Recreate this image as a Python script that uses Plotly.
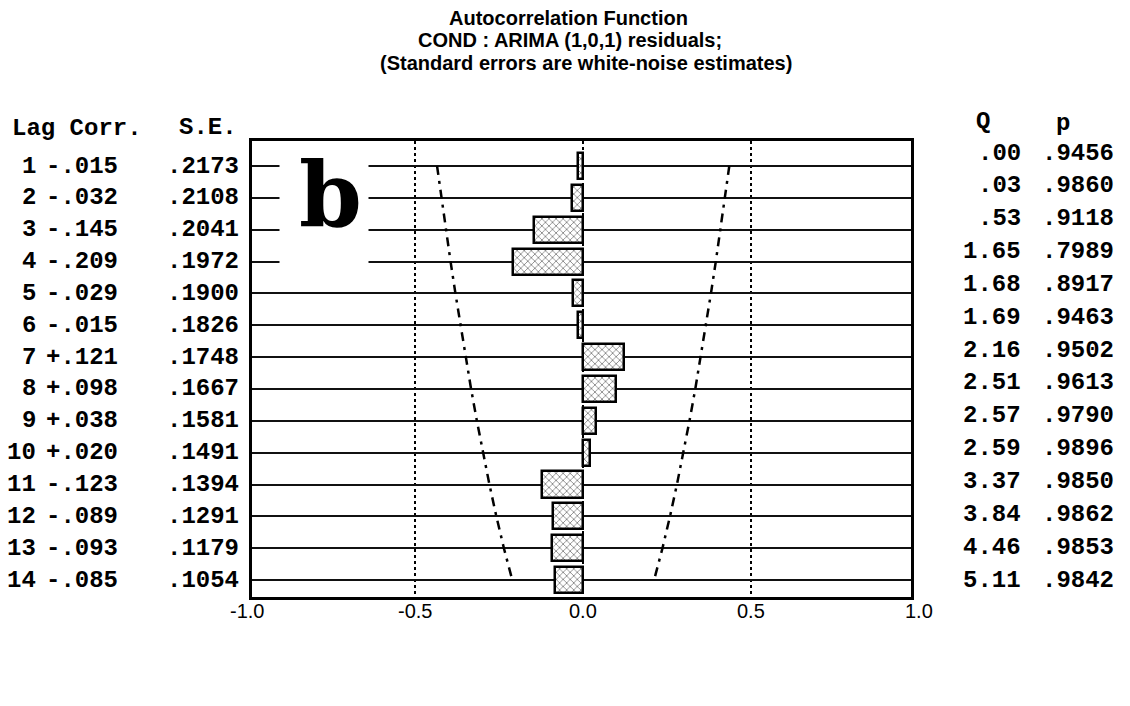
import plotly.graph_objects as go

# ---- data ----
lags = list(range(1, 15))
corr = [-0.015, -0.032, -0.145, -0.209, -0.029, -0.015, 0.121, 0.098,
        0.038, 0.020, -0.123, -0.089, -0.093, -0.085]
se = [0.2173, 0.2108, 0.2041, 0.1972, 0.1900, 0.1826, 0.1748, 0.1667,
      0.1581, 0.1491, 0.1394, 0.1291, 0.1179, 0.1054]
q_stat = [0.00, 0.03, 0.53, 1.65, 1.68, 1.69, 2.16, 2.51, 2.57, 2.59,
          3.37, 3.84, 4.46, 5.11]
p_val = [0.9456, 0.9860, 0.9118, 0.7989, 0.8917, 0.9463, 0.9502, 0.9613,
         0.9790, 0.9896, 0.9850, 0.9862, 0.9853, 0.9842]
x_ticks = [-1.0, -0.5, 0.0, 0.5, 1.0]
x_tick_labels = ["-1.0", "-0.5", "0.0", "0.5", "1.0"]
title_lines = ["Autocorrelation Function",
               "COND : ARIMA (1,0,1) residuals;",
               "(Standard errors are white-noise estimates)"]
panel_label = "b"


def nolead(s):
    return s.replace("0.", ".", 1) if s.lstrip("+-").startswith("0.") else s


W, H = 1130, 706
X0, PXU = 575, 336          # pixel of x=0 and pixels per unit
XR = [-0.985, 0.975]        # frame limits in data units
L, R = X0 + XR[0] * PXU, X0 + XR[1] * PXU
T, B = 133, 589             # frame top / bottom in pixels


def px_x(px):
    return (px - L) / (R - L)


def px_y(py):
    return (B - py) / (B - T)


def val_to_paper(v):
    return (v - XR[0]) / (XR[1] - XR[0])


MONO = "Liberation Mono"
fig = go.Figure()

fig.add_trace(go.Bar(
    x=corr, y=lags, orientation="h", width=0.82, base=0,
    marker=dict(color="white", line=dict(color="black", width=2.5),
                pattern=dict(shape="x", fgcolor="black", size=5, solidity=0.3)),
    showlegend=False, hoverinfo="x+y"))

band_lo = [-2 * s for s in se]
band_hi = [2 * s for s in se]
for band in (band_lo, band_hi):
    fig.add_trace(go.Scatter(
        x=band, y=lags, mode="lines", showlegend=False,
        line=dict(color="black", width=2.5, dash="9px,6px,3px,6px")))

ann = []
# title (scanned page: lines are not quite centred on each other)
title_cx = [560, 562, 578]
for i, line in enumerate(title_lines):
    ann.append(dict(text=f"<b>{line}</b>", xref="paper", yref="paper",
                    x=px_x(title_cx[i]), y=px_y(10 + 22.5 * i), showarrow=False,
                    xanchor="center", yanchor="middle",
                    font=dict(family="Liberation Sans", size=20, color="black")))
# x tick labels (the ends lie just outside the frame)
for v, t in zip(x_ticks, x_tick_labels):
    ann.append(dict(text=t, xref="paper", yref="paper", x=val_to_paper(v),
                    y=px_y(603), showarrow=False, xanchor="center",
                    yanchor="middle",
                    font=dict(family="Liberation Sans", size=20, color="black")))
# headers
hdr = dict(xref="paper", yref="paper", showarrow=False, yanchor="middle",
           font=dict(family=MONO, size=24, color="black", weight="bold"))
ann.append(dict(hdr, text="Lag Corr.", x=px_x(2), y=px_y(121), xanchor="left"))
ann.append(dict(hdr, text="S.E.", x=px_x(231), y=px_y(119), xanchor="right"))
ann.append(dict(hdr, text="Q", x=px_x(975), y=px_y(113), xanchor="center"))
ann.append(dict(hdr, text="p", x=px_x(1054), y=px_y(115), xanchor="center"))

row = dict(xref="paper", yref="y", showarrow=False, yanchor="middle",
           font=dict(family=MONO, size=24, color="black", weight="bold"))
for k, c, s, q, p in zip(lags, corr, se, q_stat, p_val):
    skew = 14 - k  # the scanned table on the right drifts upward
    ann.append(dict(row, text=str(k), x=px_x(30), y=k, xanchor="right"))
    ann.append(dict(row, text=nolead(f"{c:+.3f}"), x=px_x(36), y=k, xanchor="left"))
    ann.append(dict(row, text=nolead(f"{s:.4f}"), x=px_x(233), y=k, xanchor="right"))
    ann.append(dict(row, text=nolead(f"{q:.2f}"), x=px_x(1015), y=k,
                    xanchor="right", yshift=skew))
    ann.append(dict(row, text=nolead(f"{p:.4f}"), x=px_x(1107), y=k,
                    xanchor="right", yshift=skew))

# white patch behind the panel letter, then the letter itself
ann.append(dict(text=" ", xref="x", yref="y", x=(316 - X0) / PXU, y=2.5,
                showarrow=False, bgcolor="white", width=86, height=112,
                xanchor="center", yanchor="middle"))
ann.append(dict(text=panel_label, xref="x", yref="y", x=(322 - X0) / PXU, y=2.5,
                showarrow=False, xanchor="center", yanchor="middle", yshift=20,
                font=dict(family="DejaVu Serif", size=90, color="black",
                          weight="bold")))

fig.update_layout(
    width=W, height=H, autosize=False,
    margin=dict(l=L, r=W - R, t=T, b=H - B, pad=0),
    paper_bgcolor="white", plot_bgcolor="white",
    annotations=ann, bargap=0,
    xaxis=dict(range=XR, tickvals=x_ticks, showticklabels=False,
               showgrid=True, gridcolor="black", gridwidth=1.5, griddash="dot",
               zeroline=False, showline=True, mirror=True, linecolor="black",
               linewidth=2.5, ticks=""),
    yaxis=dict(range=[14.53, 0.215], tickvals=lags, showticklabels=False,
               showgrid=True, gridcolor="#111", gridwidth=1.6, zeroline=False,
               showline=True, mirror=True, linecolor="black", linewidth=2.5,
               ticks=""),
)

fig.write_html("out.html")
